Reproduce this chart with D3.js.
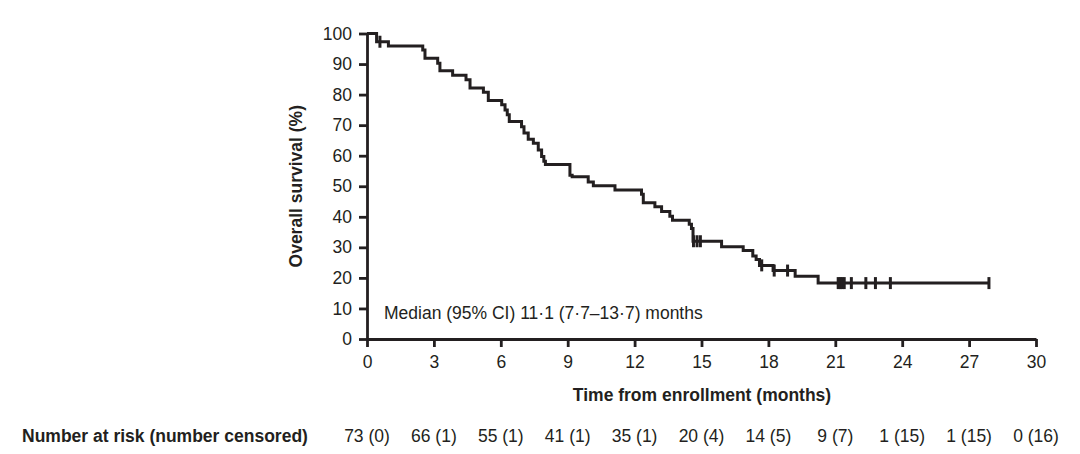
<!DOCTYPE html>
<html>
<head>
<meta charset="utf-8">
<script src="https://cdn.jsdelivr.net/npm/d3@7/dist/d3.min.js"></script>
<style>
  body { margin: 0; background: #fff; }
  svg { display: block; font-family: "Liberation Sans", Arial, Helvetica, sans-serif; }
</style>
</head>
<body>
<svg id="chart" width="1080" height="454"></svg>
<script>
// KM steps: [months, survival %] (value from that time on)
const steps = [
  [0, 100], [0.43, 97.3], [0.96, 95.9], [2.5, 94.6], [2.6, 91.9],
  [3.17, 90.3], [3.27, 87.8], [3.84, 86.3], [4.44, 84.9], [4.62, 82.2],
  [5.22, 80.8], [5.44, 78.1], [6.04, 76.7], [6.19, 75.0], [6.29, 73.4],
  [6.38, 71.2], [6.93, 69.5], [7.04, 67.4], [7.23, 65.4], [7.46, 64.1],
  [7.68, 61.9], [7.83, 59.7], [7.93, 58.2], [8.0, 57.1], [9.1, 53.6],
  [9.2, 53.1], [9.92, 51.4], [10.15, 50.2], [11.12, 48.8], [12.31, 47.4],
  [12.39, 44.6], [12.91, 43.3], [13.21, 41.7], [13.58, 40.2], [13.7, 38.9],
  [14.45, 37.6], [14.55, 36.2], [14.62, 32.0], [15.9, 30.2], [16.87, 29.0],
  [17.3, 27.2], [17.45, 26.0], [17.6, 24.1], [18.21, 22.4], [19.2, 20.5],
  [20.23, 18.3], [27.9, 18.3]
];

// censored observations (months)
const censorTimes = [0.58, 14.64, 14.8, 14.95, 17.7, 18.26, 18.86,
  21.13, 21.22, 21.3, 21.4, 21.72, 22.37, 22.8, 23.47, 27.89];

const xTicks = [0, 3, 6, 9, 12, 15, 18, 21, 24, 27, 30];
const yTicks = [0, 10, 20, 30, 40, 50, 60, 70, 80, 90, 100];
const atRisk = ['73 (0)', '66 (1)', '55 (1)', '41 (1)', '35 (1)', '20 (4)',
  '14 (5)', '9 (7)', '1 (15)', '1 (15)', '0 (16)'];

const ink = '#231f20';
const fs = 17.5;
const svg = d3.select('#chart');

const x = d3.scaleLinear().domain([0, 30]).range([367, 1036]);
const y = d3.scaleLinear().domain([0, 100]).range([339, 33.5]);

// survival at time t (step function)
function survAt(t) {
  let s = 100;
  steps.forEach(d => { if (d[0] <= t) s = d[1]; });
  return s;
}

// axes
const xAxis = svg.append('g')
  .attr('transform', `translate(0,${y(0)})`)
  .call(d3.axisBottom(x).tickValues(xTicks).tickSize(8).tickSizeOuter(0).tickPadding(9));

const yAxis = svg.append('g')
  .attr('transform', `translate(${x(0)},0)`)
  .call(d3.axisLeft(y).tickValues(yTicks).tickSize(8).tickSizeOuter(0).tickPadding(7));

[xAxis, yAxis].forEach(g => {
  g.selectAll('.domain').attr('stroke', ink).attr('stroke-width', 2.8);
  g.selectAll('.tick line').attr('stroke', ink).attr('stroke-width', 2.8);
  g.selectAll('.tick text')
    .attr('fill', ink)
    .attr('font-size', fs)
    .attr('font-family', '"Liberation Sans", Arial, sans-serif');
});

// KM curve
const line = d3.line()
  .x(d => x(d[0]))
  .y(d => y(d[1]))
  .curve(d3.curveStepAfter);

svg.append('path')
  .datum(steps)
  .attr('d', line)
  .attr('fill', 'none')
  .attr('stroke', ink)
  .attr('stroke-width', 3)
  .attr('stroke-linejoin', 'miter');

// censor ticks
svg.append('g')
  .selectAll('line')
  .data(censorTimes)
  .enter()
  .append('line')
  .attr('x1', d => x(d))
  .attr('x2', d => x(d))
  .attr('y1', d => y(survAt(d)) - 6)
  .attr('y2', d => y(survAt(d)) + 6)
  .attr('stroke', ink)
  .attr('stroke-width', 3);

// axis titles
svg.append('text')
  .attr('x', 702)
  .attr('y', 401)
  .attr('text-anchor', 'middle')
  .attr('font-size', fs)
  .attr('font-weight', 'bold')
  .attr('fill', ink)
  .text('Time from enrollment (months)');

svg.append('text')
  .attr('transform', `translate(302,${(y(0) + y(100)) / 2}) rotate(-90)`)
  .attr('text-anchor', 'middle')
  .attr('font-size', fs)
  .attr('font-weight', 'bold')
  .attr('fill', ink)
  .text('Overall survival (%)');

// median annotation
svg.append('text')
  .attr('x', 384)
  .attr('y', 319)
  .attr('font-size', fs)
  .attr('fill', ink)
  .text('Median (95% CI) 11\u00b71 (7\u00b77\u201313\u00b77) months');

// number at risk row
svg.append('text')
  .attr('x', 22)
  .attr('y', 442)
  .attr('font-size', fs)
  .attr('font-weight', 'bold')
  .attr('fill', ink)
  .text('Number at risk (number censored)');

svg.append('g')
  .selectAll('text')
  .data(atRisk)
  .enter()
  .append('text')
  .attr('x', (d, i) => x(xTicks[i]))
  .attr('y', 442)
  .attr('text-anchor', 'middle')
  .attr('font-size', fs)
  .attr('fill', ink)
  .text(d => d);
</script>
</body>
</html>
